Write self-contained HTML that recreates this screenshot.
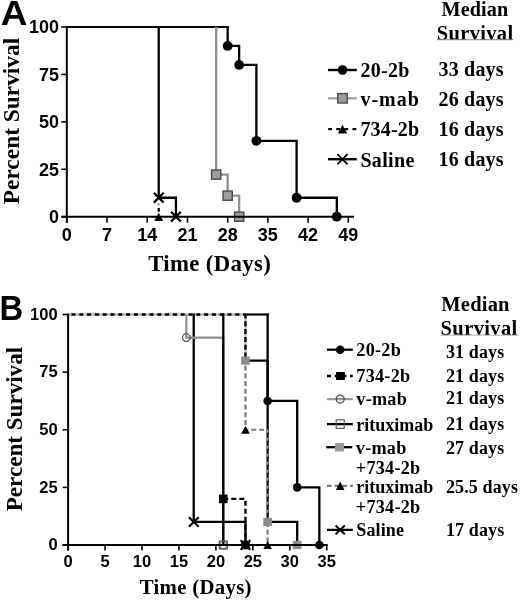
<!DOCTYPE html>
<html><head><meta charset="utf-8"><title>Survival curves</title>
<style>
html,body{margin:0;padding:0;background:#fff;}
body{width:520px;height:600px;overflow:hidden;font-family:"Liberation Sans",sans-serif;}
svg{display:block;will-change:transform;}
</style></head>
<body>
<svg width="520" height="600" viewBox="0 0 520 600">
<rect width="520" height="600" fill="#fff"/>
<text transform="translate(0.7,25.1) scale(1.04,1)" font-family="Liberation Sans" font-weight="bold" font-size="35.5">A</text>
<text x="59" y="223.1" font-family="Liberation Sans" font-weight="bold" font-size="18" text-anchor="end">0</text>
<text x="59" y="175.67" font-family="Liberation Sans" font-weight="bold" font-size="18" text-anchor="end">25</text>
<text x="59" y="128.25" font-family="Liberation Sans" font-weight="bold" font-size="18" text-anchor="end">50</text>
<text x="59" y="80.82" font-family="Liberation Sans" font-weight="bold" font-size="18" text-anchor="end">75</text>
<text x="59" y="33.4" font-family="Liberation Sans" font-weight="bold" font-size="18" text-anchor="end">100</text>
<text x="66.8" y="240.6" font-family="Liberation Sans" font-weight="bold" font-size="18" text-anchor="middle">0</text>
<text x="107.02" y="240.6" font-family="Liberation Sans" font-weight="bold" font-size="18" text-anchor="middle">7</text>
<text x="147.23" y="240.6" font-family="Liberation Sans" font-weight="bold" font-size="18" text-anchor="middle">14</text>
<text x="187.44" y="240.6" font-family="Liberation Sans" font-weight="bold" font-size="18" text-anchor="middle">21</text>
<text x="227.66" y="240.6" font-family="Liberation Sans" font-weight="bold" font-size="18" text-anchor="middle">28</text>
<text x="267.88" y="240.6" font-family="Liberation Sans" font-weight="bold" font-size="18" text-anchor="middle">35</text>
<text x="308.09" y="240.6" font-family="Liberation Sans" font-weight="bold" font-size="18" text-anchor="middle">42</text>
<text x="348.31" y="240.6" font-family="Liberation Sans" font-weight="bold" font-size="18" text-anchor="middle">49</text>
<text x="209.7" y="270.7" font-family="Liberation Serif" font-weight="bold" font-size="22.8" text-anchor="middle" letter-spacing="0.35">Time (Days)</text>
<text transform="translate(18.6,121) rotate(-90)" font-family="Liberation Serif" font-weight="bold" font-size="23.4" text-anchor="middle">Percent Survival</text>
<line x1="66.8" y1="27" x2="228.76" y2="27" stroke="#000" stroke-width="2.2"/>
<path d="M216.17,27L216.17,174.59L227.66,174.59L227.66,195.64L239.15,195.64L239.15,216.7" fill="none" stroke="#8f8f8f" stroke-width="2.3"/>
<path d="M158.72,197.73L158.72,216.7" fill="none" stroke="#000" stroke-width="2.2" stroke-dasharray="0,5.9,0.8,3.6,3.6,30" stroke-dashoffset="0"/>
<path d="M158.72,25.9L158.72,197.73L175.95,197.73L175.95,216.7" fill="none" stroke="#000" stroke-width="2.3"/>
<path d="M227.66,25.9L227.66,45.97L239.15,45.97L239.15,64.94L256.38,64.94L256.38,140.82L296.6,140.82L296.6,197.73L336.81,197.73L336.81,216.7" fill="none" stroke="#000" stroke-width="2.3"/>
<rect x="211.57" y="169.99" width="9.2" height="9.2" fill="#9c9c9c" stroke="#4a4a4a" stroke-width="1.4"/>
<rect x="223.06" y="191.04" width="9.2" height="9.2" fill="#9c9c9c" stroke="#4a4a4a" stroke-width="1.4"/>
<rect x="234.55" y="212.1" width="9.2" height="9.2" fill="#9c9c9c" stroke="#4a4a4a" stroke-width="1.4"/>
<polygon points="154.22,221.1 163.22,221.1 158.72,212.7" fill="#000"/>
<path d="M153.82,192.83L163.62,202.63M153.82,202.63L163.62,192.83" stroke="#000" stroke-width="2.2" fill="none"/>
<path d="M171.05,211.8L180.85,221.6M171.05,221.6L180.85,211.8" stroke="#000" stroke-width="2.2" fill="none"/>
<circle cx="227.66" cy="45.97" r="4.9" fill="#000" stroke="none" stroke-width="1"/>
<circle cx="239.15" cy="64.94" r="4.9" fill="#000" stroke="none" stroke-width="1"/>
<circle cx="256.38" cy="140.82" r="4.9" fill="#000" stroke="none" stroke-width="1"/>
<circle cx="296.6" cy="197.73" r="4.9" fill="#000" stroke="none" stroke-width="1"/>
<circle cx="336.81" cy="216.7" r="4.9" fill="#000" stroke="none" stroke-width="1"/>
<line x1="66.8" y1="26" x2="66.8" y2="222.7" stroke="#000" stroke-width="2.0"/>
<line x1="61.3" y1="216.7" x2="354" y2="216.7" stroke="#000" stroke-width="2.0"/>
<line x1="61.3" y1="216.7" x2="66.8" y2="216.7" stroke="#000" stroke-width="1.6"/>
<line x1="61.3" y1="169.27" x2="66.8" y2="169.27" stroke="#000" stroke-width="1.6"/>
<line x1="61.3" y1="121.85" x2="66.8" y2="121.85" stroke="#000" stroke-width="1.6"/>
<line x1="61.3" y1="74.42" x2="66.8" y2="74.42" stroke="#000" stroke-width="1.6"/>
<line x1="61.3" y1="27" x2="66.8" y2="27" stroke="#000" stroke-width="1.6"/>
<line x1="66.8" y1="216.7" x2="66.8" y2="222.7" stroke="#000" stroke-width="1.6"/>
<line x1="107.02" y1="216.7" x2="107.02" y2="222.7" stroke="#000" stroke-width="1.6"/>
<line x1="147.23" y1="216.7" x2="147.23" y2="222.7" stroke="#000" stroke-width="1.6"/>
<line x1="187.44" y1="216.7" x2="187.44" y2="222.7" stroke="#000" stroke-width="1.6"/>
<line x1="227.66" y1="216.7" x2="227.66" y2="222.7" stroke="#000" stroke-width="1.6"/>
<line x1="267.88" y1="216.7" x2="267.88" y2="222.7" stroke="#000" stroke-width="1.6"/>
<line x1="308.09" y1="216.7" x2="308.09" y2="222.7" stroke="#000" stroke-width="1.6"/>
<line x1="348.31" y1="216.7" x2="348.31" y2="222.7" stroke="#000" stroke-width="1.6"/>
<line x1="328" y1="70" x2="356.8" y2="70" stroke="#000" stroke-width="2.4"/>
<circle cx="342.5" cy="70" r="4.8" fill="#000" stroke="none" stroke-width="1"/>
<line x1="328" y1="98.3" x2="356.8" y2="98.3" stroke="#9a9a9a" stroke-width="2.2"/>
<rect x="337.8" y="93.6" width="9.4" height="9.4" fill="#9c9c9c" stroke="#4a4a4a" stroke-width="1.4"/>
<line x1="328.2" y1="129.1" x2="356.8" y2="129.1" stroke="#000" stroke-width="2.3" stroke-dasharray="3.8,4.3"/>
<polygon points="337.9,133.4 347.1,133.4 342.5,124.8" fill="#000"/>
<line x1="328" y1="159.2" x2="356.8" y2="159.2" stroke="#000" stroke-width="2.4"/>
<path d="M337.4,154.1L347.6,164.3M337.4,164.3L347.6,154.1" stroke="#000" stroke-width="1.8" fill="none"/>
<text x="360.4" y="76.7" font-family="Liberation Serif" font-weight="bold" font-size="20" text-anchor="start" letter-spacing="0.3">20-2b</text>
<text x="438.5" y="76.4" font-family="Liberation Serif" font-weight="bold" font-size="20" text-anchor="start" letter-spacing="0.2">33 days</text>
<text x="360.4" y="105.9" font-family="Liberation Serif" font-weight="bold" font-size="20" text-anchor="start" letter-spacing="1.0">v-mab</text>
<text x="438.5" y="106.4" font-family="Liberation Serif" font-weight="bold" font-size="20" text-anchor="start" letter-spacing="0.2">26 days</text>
<text x="360.4" y="136.4" font-family="Liberation Serif" font-weight="bold" font-size="20" text-anchor="start" letter-spacing="0.2">734-2b</text>
<text x="438.5" y="136.4" font-family="Liberation Serif" font-weight="bold" font-size="20" text-anchor="start" letter-spacing="0.2">16 days</text>
<text x="360.4" y="166.5" font-family="Liberation Serif" font-weight="bold" font-size="20" text-anchor="start" letter-spacing="0.35">Saline</text>
<text x="438.5" y="166.4" font-family="Liberation Serif" font-weight="bold" font-size="20" text-anchor="start" letter-spacing="0.2">16 days</text>
<text x="441.5" y="16.1" font-family="Liberation Serif" font-weight="bold" font-size="20.2" text-anchor="start" letter-spacing="0.1">Median</text>
<text x="436.8" y="39.9" font-family="Liberation Serif" font-weight="bold" font-size="20.5" text-anchor="start" letter-spacing="0.32">Survival</text>
<line x1="437" y1="39.7" x2="512.8" y2="39.7" stroke="#8a8a8a" stroke-width="1.0"/>
<text transform="translate(-0.6,319.8) scale(0.95,1)" font-family="Liberation Sans" font-weight="bold" font-size="34.5">B</text>
<text x="57.6" y="550.3" font-family="Liberation Sans" font-weight="bold" font-size="16.5" text-anchor="end">0</text>
<text x="57.6" y="492.68" font-family="Liberation Sans" font-weight="bold" font-size="16.5" text-anchor="end">25</text>
<text x="57.6" y="435.05" font-family="Liberation Sans" font-weight="bold" font-size="16.5" text-anchor="end">50</text>
<text x="57.6" y="377.43" font-family="Liberation Sans" font-weight="bold" font-size="16.5" text-anchor="end">75</text>
<text x="57.6" y="319.8" font-family="Liberation Sans" font-weight="bold" font-size="16.5" text-anchor="end">100</text>
<text x="68.1" y="566.8" font-family="Liberation Sans" font-weight="bold" font-size="16.5" text-anchor="middle">0</text>
<text x="105.05" y="566.8" font-family="Liberation Sans" font-weight="bold" font-size="16.5" text-anchor="middle">5</text>
<text x="142" y="566.8" font-family="Liberation Sans" font-weight="bold" font-size="16.5" text-anchor="middle">10</text>
<text x="178.95" y="566.8" font-family="Liberation Sans" font-weight="bold" font-size="16.5" text-anchor="middle">15</text>
<text x="215.9" y="566.8" font-family="Liberation Sans" font-weight="bold" font-size="16.5" text-anchor="middle">20</text>
<text x="252.85" y="566.8" font-family="Liberation Sans" font-weight="bold" font-size="16.5" text-anchor="middle">25</text>
<text x="289.8" y="566.8" font-family="Liberation Sans" font-weight="bold" font-size="16.5" text-anchor="middle">30</text>
<text x="326.75" y="566.8" font-family="Liberation Sans" font-weight="bold" font-size="16.5" text-anchor="middle">35</text>
<text x="195.8" y="593.6" font-family="Liberation Serif" font-weight="bold" font-size="20.8" text-anchor="middle" letter-spacing="0.3">Time (Days)</text>
<text transform="translate(22,429.1) rotate(-90)" font-family="Liberation Serif" font-weight="bold" font-size="23.1" text-anchor="middle">Percent Survival</text>
<line x1="68.1" y1="314.5" x2="245.46" y2="314.5" stroke="#a8a8a8" stroke-width="1.8"/>
<line x1="68.1" y1="314.5" x2="245.46" y2="314.5" stroke="#000" stroke-width="2.3" stroke-dasharray="4,3.8" stroke-dashoffset="4.4"/>
<line x1="244.36" y1="314.5" x2="268.73" y2="314.5" stroke="#000" stroke-width="2.2"/>
<path d="M193.73,313.4L193.73,521.95L245.46,521.95L245.46,545" fill="none" stroke="#000" stroke-width="2.3"/>
<path d="M186.34,314.5L186.34,337.55L223.29,337.55L223.29,545" fill="none" stroke="#8f8f8f" stroke-width="2.2"/>
<path d="M223.29,498.9L245.46,498.9L245.46,545" fill="none" stroke="#000" stroke-width="2.3" stroke-dasharray="5,3"/>
<path d="M223.29,313.4L223.29,545" fill="none" stroke="#000" stroke-width="2.3"/>
<path d="M267.63,313.4L267.63,400.94L297.19,400.94L297.19,487.38L319.36,487.38L319.36,545" fill="none" stroke="#000" stroke-width="2.3"/>
<path d="M245.46,314.5L245.46,360.6" fill="none" stroke="#a8a8a8" stroke-width="1.8"/>
<path d="M245.46,314.5L245.46,360.6" fill="none" stroke="#000" stroke-width="2.3" stroke-dasharray="5,2.8" stroke-dashoffset="1"/>
<path d="M245.46,360.6L267.63,360.6L267.63,521.95L297.19,521.95L297.19,545" fill="none" stroke="#000" stroke-width="2.3"/>
<path d="M245.46,360.6L245.46,429.75L267.63,429.75" fill="none" stroke="#7a7a7a" stroke-width="2.2" stroke-dasharray="5,2.8" stroke-dashoffset="3"/>
<path d="M267.63,429.75L267.63,521.95" fill="none" stroke="#a3a3a3" stroke-width="1.7" stroke-dasharray="3,5"/>
<path d="M267.63,521.95L267.63,545" fill="none" stroke="#7a7a7a" stroke-width="2.2" stroke-dasharray="5,2.8"/>
<circle cx="186.34" cy="337.55" r="3.8" fill="none" stroke="#444" stroke-width="1.2"/>
<circle cx="223.29" cy="545" r="3.6" fill="none" stroke="#666" stroke-width="1.1"/>
<rect x="219.29" y="541" width="8" height="8" fill="none" stroke="#444" stroke-width="1.1"/>
<rect x="218.99" y="494.6" width="8.6" height="8.6" fill="#000" stroke="none" stroke-width="1"/>
<rect x="241.16" y="540.7" width="8.6" height="8.6" fill="#000" stroke="none" stroke-width="1"/>
<path d="M188.83,517.25L198.63,526.65M188.83,526.65L198.63,517.25" stroke="#000" stroke-width="2.1" fill="none"/>
<path d="M240.56,540.3L250.36,549.7M240.56,549.7L250.36,540.3" stroke="#000" stroke-width="2.1" fill="none"/>
<circle cx="267.63" cy="400.94" r="4.3" fill="#000" stroke="none" stroke-width="1"/>
<circle cx="297.19" cy="487.38" r="4.3" fill="#000" stroke="none" stroke-width="1"/>
<circle cx="319.36" cy="545" r="4.3" fill="#000" stroke="none" stroke-width="1"/>
<rect x="241.16" y="356.5" width="8.6" height="8.2" fill="#8c8c8c" stroke="none" stroke-width="1"/>
<rect x="263.33" y="517.85" width="8.6" height="8.2" fill="#8c8c8c" stroke="none" stroke-width="1"/>
<rect x="292.89" y="540.9" width="8.6" height="8.2" fill="#8c8c8c" stroke="none" stroke-width="1"/>
<polygon points="241.16,433.75 249.76,433.75 245.46,425.75" fill="#000"/>
<polygon points="263.33,549 271.93,549 267.63,541" fill="#000"/>
<line x1="68.1" y1="313.5" x2="68.1" y2="550.5" stroke="#000" stroke-width="2.0"/>
<line x1="62.6" y1="545" x2="327.75" y2="545" stroke="#000" stroke-width="2.0"/>
<line x1="62.6" y1="545" x2="68.1" y2="545" stroke="#000" stroke-width="1.6"/>
<line x1="62.6" y1="487.38" x2="68.1" y2="487.38" stroke="#000" stroke-width="1.6"/>
<line x1="62.6" y1="429.75" x2="68.1" y2="429.75" stroke="#000" stroke-width="1.6"/>
<line x1="62.6" y1="372.12" x2="68.1" y2="372.12" stroke="#000" stroke-width="1.6"/>
<line x1="62.6" y1="314.5" x2="68.1" y2="314.5" stroke="#000" stroke-width="1.6"/>
<line x1="68.1" y1="545" x2="68.1" y2="550.5" stroke="#000" stroke-width="1.6"/>
<line x1="105.05" y1="545" x2="105.05" y2="550.5" stroke="#000" stroke-width="1.6"/>
<line x1="142" y1="545" x2="142" y2="550.5" stroke="#000" stroke-width="1.6"/>
<line x1="178.95" y1="545" x2="178.95" y2="550.5" stroke="#000" stroke-width="1.6"/>
<line x1="215.9" y1="545" x2="215.9" y2="550.5" stroke="#000" stroke-width="1.6"/>
<line x1="252.85" y1="545" x2="252.85" y2="550.5" stroke="#000" stroke-width="1.6"/>
<line x1="289.8" y1="545" x2="289.8" y2="550.5" stroke="#000" stroke-width="1.6"/>
<line x1="326.75" y1="545" x2="326.75" y2="550.5" stroke="#000" stroke-width="1.6"/>
<line x1="327" y1="349.7" x2="352.8" y2="349.7" stroke="#000" stroke-width="2.3"/>
<circle cx="340.2" cy="349.7" r="4.3" fill="#000" stroke="none" stroke-width="1"/>
<line x1="327" y1="376" x2="352.8" y2="376" stroke="#000" stroke-width="2.3" stroke-dasharray="4,3.7"/>
<rect x="336.1" y="372" width="8.8" height="8" fill="#000" stroke="none" stroke-width="1"/>
<line x1="327" y1="399.1" x2="352.8" y2="399.1" stroke="#999" stroke-width="2.2"/>
<circle cx="340.2" cy="399.1" r="4.0" fill="none" stroke="#444" stroke-width="1.2"/>
<line x1="327" y1="424.1" x2="352.8" y2="424.1" stroke="#000" stroke-width="2.3"/>
<rect x="336.2" y="419.8" width="8" height="8.6" fill="none" stroke="#555" stroke-width="1.1"/>
<line x1="326.2" y1="447.2" x2="352.3" y2="447.2" stroke="#000" stroke-width="2.3"/>
<rect x="335.05" y="442.9" width="8.9" height="8.6" fill="#999" stroke="none" stroke-width="1"/>
<line x1="327" y1="485.8" x2="352.8" y2="485.8" stroke="#7a7a7a" stroke-width="2.2" stroke-dasharray="4.5,3.2"/>
<polygon points="335.9,490.1 344.5,490.1 340.2,481.5" fill="#000"/>
<line x1="327" y1="529.9" x2="352.8" y2="529.9" stroke="#000" stroke-width="2.3"/>
<path d="M335.6,525.5L344.8,534.3M335.6,534.3L344.8,525.5" stroke="#000" stroke-width="1.9" fill="none"/>
<text x="356.3" y="356.4" font-family="Liberation Serif" font-weight="bold" font-size="18.2" text-anchor="start" letter-spacing="0.25">20-2b</text>
<text x="356.3" y="382" font-family="Liberation Serif" font-weight="bold" font-size="18.2" text-anchor="start" letter-spacing="0.25">734-2b</text>
<text x="356.3" y="404.8" font-family="Liberation Serif" font-weight="bold" font-size="18.2" text-anchor="start" letter-spacing="0.25">v-mab</text>
<text x="356.3" y="430.9" font-family="Liberation Serif" font-weight="bold" font-size="18.0" text-anchor="start">rituximab</text>
<text x="355.8" y="453.7" font-family="Liberation Serif" font-weight="bold" font-size="18.2" text-anchor="start" letter-spacing="0.25">v-mab</text>
<text x="355.8" y="474.2" font-family="Liberation Serif" font-weight="bold" font-size="18.2" text-anchor="start" letter-spacing="0.25">+734-2b</text>
<text x="356.3" y="492.7" font-family="Liberation Serif" font-weight="bold" font-size="18.0" text-anchor="start">rituximab</text>
<text x="355.8" y="513.3" font-family="Liberation Serif" font-weight="bold" font-size="18.2" text-anchor="start" letter-spacing="0.25">+734-2b</text>
<text x="356.3" y="535.6" font-family="Liberation Serif" font-weight="bold" font-size="18.1" text-anchor="start" letter-spacing="0.1">Saline</text>
<text x="446" y="357.7" font-family="Liberation Serif" font-weight="bold" font-size="18" text-anchor="start" letter-spacing="0.12">31 days</text>
<text x="446" y="381.5" font-family="Liberation Serif" font-weight="bold" font-size="18" text-anchor="start" letter-spacing="0.12">21 days</text>
<text x="446" y="403.7" font-family="Liberation Serif" font-weight="bold" font-size="18" text-anchor="start" letter-spacing="0.12">21 days</text>
<text x="446" y="430" font-family="Liberation Serif" font-weight="bold" font-size="18" text-anchor="start" letter-spacing="0.12">21 days</text>
<text x="446" y="453.75" font-family="Liberation Serif" font-weight="bold" font-size="18" text-anchor="start" letter-spacing="0.12">27 days</text>
<text x="446" y="492.5" font-family="Liberation Serif" font-weight="bold" font-size="18" text-anchor="start" letter-spacing="0.12">25.5 days</text>
<text x="446" y="536.25" font-family="Liberation Serif" font-weight="bold" font-size="18" text-anchor="start" letter-spacing="0.12">17 days</text>
<text x="441.3" y="310.9" font-family="Liberation Serif" font-weight="bold" font-size="20.5" text-anchor="start" letter-spacing="0.2">Median</text>
<text x="440.6" y="334.9" font-family="Liberation Serif" font-weight="bold" font-size="20.5" text-anchor="start" letter-spacing="0.38">Survival</text>
<line x1="440.6" y1="335.2" x2="518.8" y2="335.2" stroke="#b0b0b0" stroke-width="1.0"/>
</svg>
</body></html>
